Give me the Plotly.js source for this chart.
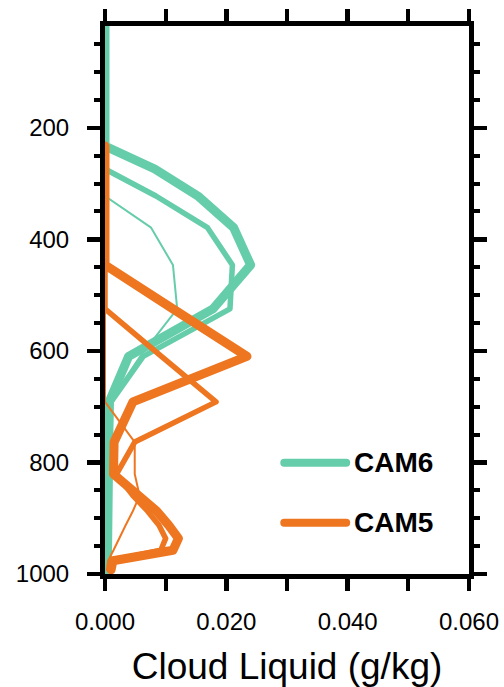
<!DOCTYPE html>
<html>
<head>
<meta charset="utf-8">
<script src="https://cdn.plot.ly/plotly-3.0.1.min.js"></script>
<style>
  html, body { margin: 0; padding: 0; background: #ffffff; }
  #chart { width: 504px; height: 687px; }
  /* rounded joins/caps for the profile lines and legend strokes */
  .scatterlayer .js-line { stroke-linejoin: round !important; stroke-linecap: round !important; }
  .shapelayer path { stroke-linecap: round !important; }
</style>
</head>
<body>
<div id="chart"></div>
<script>
// Model mid-level pressures (hPa)
const lev = [3.64, 7.59, 14.36, 24.61, 38.27, 54.6, 72.01, 87.82, 103.32, 121.55,
             142.99, 168.23, 197.91, 232.83, 273.91, 322.24, 379.1, 445.99, 524.69, 609.78,
             691.39, 763.4, 820.86, 859.53, 887.02, 912.64, 936.2, 957.49, 976.33, 992.56];

// Cloud liquid mixing ratio profiles (g/kg), three cases per model
const cam6_case1 = [0, 0, 0, 0, 0, 0, 0, 0, 0, 0,
                    0, 0, 0, 0, 0.0082, 0.0153, 0.0212, 0.0240, 0.0178, 0.0039,
                    0.0007, 0.0007, 0.0007, 0.0007, 0.0007, 0.0006, 0.0006, 0.0005, 0.0004, 0.0002];
const cam6_case2 = [0, 0, 0, 0, 0, 0, 0, 0, 0, 0,
                    0, 0, 0, 0, 0, 0.0084, 0.0169, 0.0210, 0.0206, 0.0063,
                    0.0010, 0.0008, 0.0007, 0.0007, 0.0007, 0.0006, 0.0006, 0.0005, 0.0004, 0.0002];
const cam6_case3 = [0, 0, 0, 0, 0, 0, 0, 0, 0, 0,
                    0, 0, 0, 0, 0, 0, 0.0076, 0.0112, 0.0119, 0.0058,
                    0.0008, 0.0007, 0.0007, 0.0007, 0.0007, 0.0006, 0.0006, 0.0005, 0.0004, 0.0002];

const cam5_case1 = [null, null, null, null, null, null, null, null, null, null,
                    null, null, null, 0, 0, 0, 0, 0, 0.0112, 0.0234,
                    0.0046, 0.0015, 0.0014, 0.0056, 0.0085, 0.0105, 0.0121, 0.0112, 0.0013, 0.0010];
const cam5_case2 = [null, null, null, null, null, null, null, null, null, null,
                    null, null, null, 0, 0, 0, 0, 0, 0, 0.0093,
                    0.0183, 0.0049, 0.0019, 0.0046, 0.0070, 0.0089, 0.0100, 0.0092, 0.0010, 0.0008];
const cam5_case3 = [null, null, null, null, null, null, null, null, null, null,
                    null, null, null, 0, 0, 0, 0, 0, 0, 0,
                    0, 0.0049, 0.0049, 0.0057, 0.0046, 0.0034, 0.0024, 0.0014, 0.0005, 0.0003];

const modelNames = ['CAM6', 'CAM5'];
const modelColors = ['#66CDAA', '#EE7621'];
const caseWidths = [9, 5.5, 2];

const xTicks = [0, 0.02, 0.04, 0.06];
const yTicks = [200, 400, 600, 800, 1000];

const FONT = 'Liberation Sans, Arial, Helvetica, sans-serif';

function profile(values, model, k) {
  return {
    type: 'scatter', mode: 'lines',
    x: values, y: lev,
    line: { color: modelColors[model], width: caseWidths[k] },
    connectgaps: false,
    showlegend: false, hoverinfo: 'skip'
  };
}

const traces = [
  profile(cam6_case1, 0, 0),
  profile(cam6_case2, 0, 1),
  profile(cam6_case3, 0, 2),
  profile(cam5_case1, 1, 0),
  profile(cam5_case2, 1, 1),
  profile(cam5_case3, 1, 2)
];

// Hand-built legend: a stroke plus a bold label for each model
const legendY = [0.2028, 0.0934];
const shapes = modelNames.map((n, i) => ({
  type: 'line', xref: 'paper', yref: 'paper',
  x0: 0.4925, x1: 0.6626, y0: legendY[i], y1: legendY[i],
  line: { color: modelColors[i], width: 8 }
}));
const annotations = modelNames.map((n, i) => ({
  xref: 'paper', yref: 'paper', x: 0.6790, y: legendY[i],
  xanchor: 'left', yanchor: 'middle', showarrow: false,
  text: n, font: { family: FONT, size: 28, color: '#000', weight: 'bold' }
}));

const axisCommon = {
  showline: true, linewidth: 5, linecolor: '#000',
  mirror: 'ticks', ticks: 'outside', tickcolor: '#000',
  showgrid: false, zeroline: false, layer: 'above traces',
  tickfont: { family: FONT, size: 24, color: '#000' }
};

const layout = {
  width: 504, height: 687,
  margin: { l: 104.5, r: 35, t: 26.3, b: 112.5 },
  paper_bgcolor: '#fff', plot_bgcolor: '#fff',
  showlegend: false,
  xaxis: Object.assign({}, axisCommon, {
    range: [0, 0.06], autorange: false,
    tickvals: xTicks, tickformat: '.3f',
    ticklen: 12, tickwidth: 4.5, ticklabelstandoff: 10,
    minor: { dtick: 0.01, tick0: 0, ticks: 'outside', ticklen: 12, tickwidth: 4, tickcolor: '#000', showgrid: false },
    title: { text: 'Cloud Liquid (g/kg)', font: { family: FONT, size: 37, color: '#000' } }
  }),
  yaxis: Object.assign({}, axisCommon, {
    range: [1000, 17.5], autorange: false,
    tickvals: yTicks,
    ticklen: 13, tickwidth: 4.5, ticklabelstandoff: 13,
    minor: { dtick: 50, tick0: 0, ticks: 'outside', ticklen: 6, tickwidth: 4, tickcolor: '#000', showgrid: false }
  }),
  shapes: shapes,
  annotations: annotations
};

Plotly.newPlot('chart', traces, layout, { staticPlot: true, displayModeBar: false });
</script>
</body>
</html>
